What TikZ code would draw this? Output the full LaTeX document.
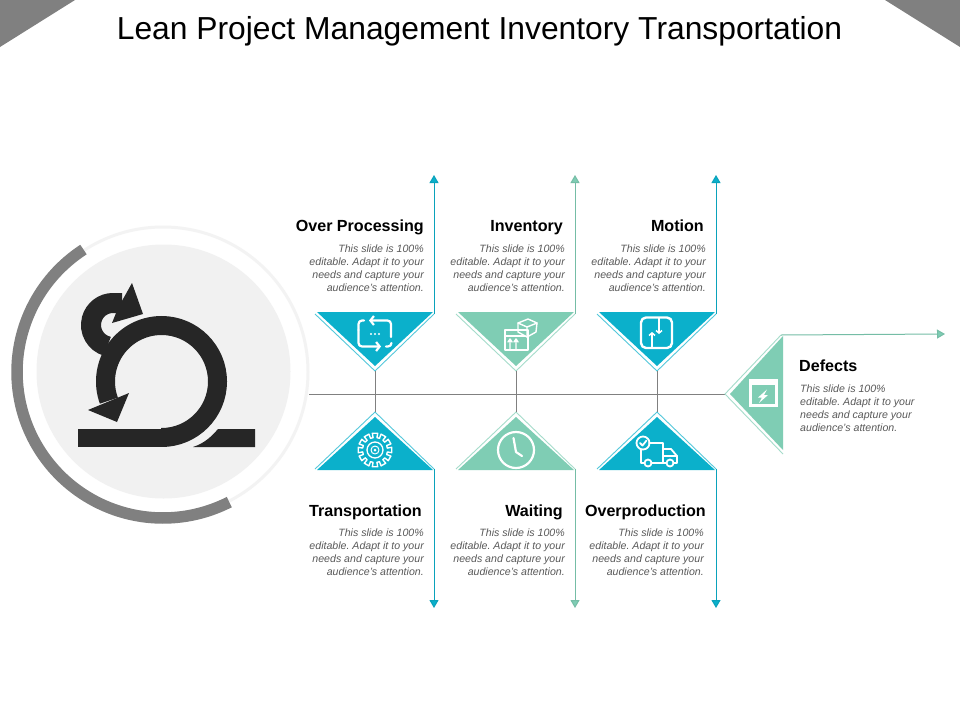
\documentclass[tikz,border=0pt]{standalone}
\usepackage{fontspec}
\setmainfont{Liberation Sans}
\usepackage{xcolor}
\usetikzlibrary{arrows.meta,calc}
\definecolor{tealc}{HTML}{0BB0CB}
\definecolor{greenc}{HTML}{7FCDB4}
\definecolor{greyc}{HTML}{808080}
\definecolor{darkc}{HTML}{262626}
\definecolor{discc}{HTML}{F1F1F1}
\definecolor{blurbc}{HTML}{595959}
\frenchspacing
\newcommand{\blurbtext}{This slide is 100\%\\editable. Adapt it to your\\needs and capture your\\audience's attention.}
% #1 name, #2 centre x, #3 colour
\newcommand{\upperblock}[3]{
  \fill[#3] (#2-58,312) -- (#2+58,312) -- (#2,366) -- cycle;
  \coordinate (#1tip) at (#2,371);
  \coordinate (#1end) at (#2+59,314);
  \coordinate (#1top) at (#2+59,175);
  \draw[chevron=#3] (#2-60,314) -- (#1tip) -- (#1end);
  \draw[arr=#3] (#1end) -- (#1top);
}
\newcommand{\lowerblock}[3]{
  \fill[#3] (#2-58,470) -- (#2+58,470) -- (#2,417) -- cycle;
  \coordinate (#1tip) at (#2,412);
  \coordinate (#1end) at (#2+59,469);
  \coordinate (#1bot) at (#2+59,608);
  \draw[chevron=#3] (#2-60,469) -- (#1tip) -- (#1end);
  \draw[arr=#3] (#1end) -- (#1bot);
}

\begin{document}
\begin{tikzpicture}[
  x=1pt, y=-1pt,
  chevron/.style={draw=#1!70!white, line width=.9pt},
  arr/.style={draw=#1!92!black, line width=1pt, -{Triangle[width=9pt,length=8pt,fill=#1]}},
  stem/.style={draw=greyc, line width=1pt},
  heading/.style={font=\fontsize{16.1}{18}\selectfont\bfseries, inner sep=0pt, text=black},
  blurb/.style={font=\fontsize{10.6}{13}\selectfont\itshape, inner sep=0pt, text=blurbc, align=right, anchor=north east},
  icon/.style={draw=white, line width=2.2pt, line cap=round, line join=round}
]
\useasboundingbox (0,0) rectangle (960,720);
\fill[white] (0,0) rectangle (960,720);

% corners and title
\fill[greyc] (0,0) -- (75,0) -- (0,47) -- cycle;
\fill[greyc] (885,0) -- (960,0) -- (960,47) -- cycle;
\node[font=\fontsize{31.8}{36}\selectfont, inner sep=0pt] (title) at (479.5,31) {Lean Project Management Inventory Transportation};

% left circle
\draw[discc!85!white, line width=3pt] (163,372) circle[radius=145];
\fill[discc] (163.5,371.5) circle[radius=127];
\draw[greyc, line width=11.5pt] plot[domain=123:297, samples=90] ({163+146*cos(\x)},{372-146*sin(\x)});

% loop icon
\draw[darkc, line width=19pt] (161.5,437.5) arc[start angle=90, end angle=-200, radius=56];
\fill[darkc] (88,410) -- (117,422) -- (129,393) -- cycle;
\fill[darkc] (78,429) rectangle (161.5,447);
\fill[darkc] (193,447) .. controls (205,443) and (212,436) .. (218,429) -- (255,429) -- (255,447) -- cycle;
\draw[darkc, line width=20pt] (113,325) ++(105:22) arc[start angle=105, end angle=270, radius=22] -- (122,303);
\fill[darkc] (132,283) -- (143,314) -- (112,323) -- (118,308) -- cycle;

% spine
\coordinate (spinestart) at (309,394);
\coordinate (deftip) at (725,394);
\draw[stem] (spinestart) -- (deftip);

% blocks
\upperblock{proc}{375}{tealc}
\upperblock{inv}{516}{greenc}
\upperblock{mot}{657}{tealc}
\lowerblock{trans}{375}{tealc}
\lowerblock{wait}{516}{greenc}
\lowerblock{over}{657}{tealc}
\draw[stem] (proctip) -- (transtip);
\draw[stem] (invtip) -- (waittip);
\draw[stem] (mottip) -- (overtip);

% defects block
\fill[greenc] (783,336) -- (783,450) -- (730,394) -- cycle;
\coordinate (defend) at (781,335);
\coordinate (defarrow) at (945,334);
\coordinate (deflow) at (783,454);
\draw[chevron=greenc] (defend) -- (deftip) -- (deflow);
\draw[arr=greenc] (defend) -- (defarrow);

% texts
\node[heading, anchor=base east] (proctitle) at (424,231) {Over Processing};
\node[blurb] (procblurb) at (424,245) {\blurbtext};
\node[heading, anchor=base east] (invtitle) at (563,231) {Inventory};
\node[blurb] (invblurb) at (565,245) {\blurbtext};
\node[heading, anchor=base east] (mottitle) at (704,231) {Motion};
\node[blurb] (motblurb) at (706,245) {\blurbtext};
\node[heading, anchor=base east] (transtitle) at (422,516) {Transportation};
\node[blurb] (transblurb) at (424,529) {\blurbtext};
\node[heading, anchor=base east] (waittitle) at (563,516) {Waiting};
\node[blurb] (waitblurb) at (565,529) {\blurbtext};
\node[heading, anchor=base east] (overtitle) at (706,516) {Overproduction};
\node[blurb] (overblurb) at (704,529) {\blurbtext};
\node[heading, anchor=base west] (deftitle) at (799,371) {Defects};
\node[blurb, align=left, anchor=north west] (defblurb) at (800,385) {\blurbtext};

% over processing icon
\draw[icon, -{Straight Barb[length=3.5pt,width=9pt]}] (391,337) -- (391,324) arc[start angle=0, end angle=-90, radius=3.5] -- (369,320.5);
\draw[icon, -{Straight Barb[length=3.5pt,width=9pt]}] (358.5,330) -- (358.5,343) arc[start angle=180, end angle=90, radius=3.5] -- (381,346.5);
\draw[icon] (386,346.5) -- (388,346.5) arc[start angle=90, end angle=0, radius=3.5];
\draw[icon] (358.5,330) -- (358.5,324) arc[start angle=180, end angle=270, radius=3.5] -- (364,320.5);
\fill[white] (371,334) circle[radius=1.1] (375,334) circle[radius=1.1] (379,334) circle[radius=1.1];

% inventory icon
\draw[icon, line width=1.4pt] (505,330) rectangle (528,350);
\draw[icon, line width=1.4pt] (505,336) -- (525,336);
\draw[icon, line width=1.4pt] (510,349) -- (510,340) (508,342) -- (510,339) -- (512,342);
\draw[icon, line width=1.4pt] (516,349) -- (516,340) (514,342) -- (516,339) -- (518,342);
\draw[icon, line width=1.4pt] (518,323) -- (528,319) -- (537,323) -- (536,332) -- (527,337) -- (518,332) -- cycle;
\draw[icon, line width=1.4pt] (518,323) -- (527,327) -- (537,323) (527,327) -- (527,337);

% motion icon
\draw[icon, line width=2.4pt, rounded corners=5pt] (641,317.5) rectangle (672,348);
\draw[icon, line width=1.5pt, -{Straight Barb[length=2.5pt,width=6pt]}] (652,348) -- (652,332);
\draw[icon, line width=1.5pt, -{Straight Barb[length=2.5pt,width=6pt]}] (659,318) -- (659,334);

% defects icon
\draw[icon, line cap=butt, line join=miter, line width=3pt] (750.5,380.5) rectangle (776.5,405.5);
\fill[white] (749,379) rectangle (778,385);
\fill[white] (767,389.5) -- (758,397.5) -- (762,397.5) -- (759,403) -- (768,395) -- (764,395) -- cycle;

% transportation icon
\foreach \ang in {0,30,...,330}{
  \draw[icon, line width=1.4pt] (375,450) ++(\ang-9:12.5) -- ++(\ang-9:4.5) -- ($(375,450)+(\ang+9:17)$) -- ($(375,450)+(\ang+9:12.5)$) -- ($(375,450)+(\ang+21:12.5)$);
}
\draw[icon, line width=1.3pt] (375,450) circle[radius=8];
\draw[icon, line width=1pt] (375,450) circle[radius=4];
\fill[white] (375,450) circle[radius=1.5];

% waiting icon
\draw[icon] (516,450) circle[radius=18];
\draw[icon] (513.5,438) -- (516,452) -- (522,456);

% overproduction icon
\tikzset{truck/.style={icon, line width=1.8pt}}
\draw[truck] (643,443) circle[radius=6.5];
\draw[truck] (640,443) -- (642.5,445.5) -- (646.5,440.5);
\draw[truck] (649,443) -- (663,443) -- (663,463) -- (652,463);
\draw[truck] (641,450) -- (641,463) -- (644.5,463);
\draw[truck] (663,449) -- (671,449) -- (677,456) -- (677,463) -- (674,463);
\draw[truck] (663,456) -- (677,456);
\draw[truck] (663,463) -- (666.5,463);
\draw[truck] (648,463) circle[radius=3.5];
\draw[truck] (670,463) circle[radius=3.5];
\end{tikzpicture}
\end{document}
